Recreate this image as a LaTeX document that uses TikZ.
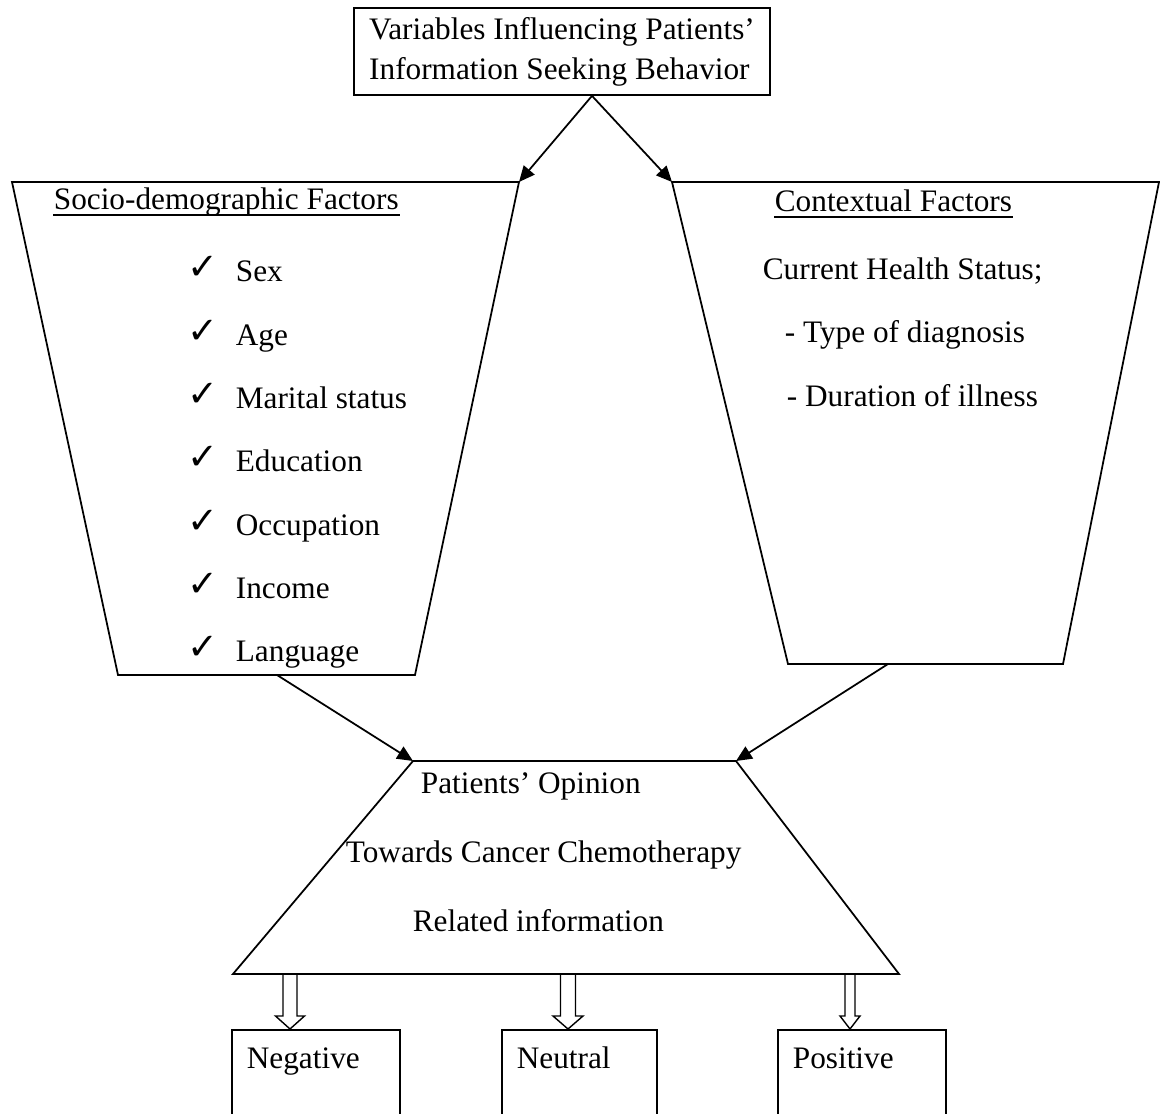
\documentclass[tikz,border=0pt]{standalone}
\usepackage{fontspec}
\setmainfont{Liberation Serif}
\newfontfamily\checkfont{DejaVu Sans}
\usetikzlibrary{arrows.meta}

\begin{document}
\begin{tikzpicture}[x=0.02cm,y=-0.02cm,line width=1pt,
    font=\fontsize{17.8}{22.7}\selectfont,
    flow/.style={-{Triangle[length=9pt,width=8pt]}},
    txt/.style={anchor=base west,inner sep=0pt},
    result/.style={draw,anchor=north west,align=left,inner xsep=0.3cm,inner ysep=0pt,
      text height=0.78cm,text depth=1.24cm},
    hollow/.style={line width=0.8pt,line join=miter}]
  \useasboundingbox (0,0) rectangle (1160,1114);

  \node[draw,align=left,minimum width=8.32cm,minimum height=1.74cm] (title) at (562,51.5)
    {Variables Influencing Patients'\\Information Seeking Behavior};
  \coordinate (split) at ([xshift=0.6cm]title.south);

  % socio-demographic trapezium
  \coordinate (sd1) at (12,182);
  \coordinate (sd2) at (519,182);
  \coordinate (sd3) at (415,675);
  \coordinate (sd4) at (118,675);
  \draw (sd1) -- (sd2) -- (sd3) -- (sd4) -- cycle;

  % contextual trapezium
  \coordinate (cf1) at (672,182);
  \coordinate (cf2) at (1159,182);
  \coordinate (cf3) at (1063,664);
  \coordinate (cf4) at (788,664);
  \draw (cf1) -- (cf2) -- (cf3) -- (cf4) -- cycle;

  \draw[flow] (split) -- (sd2);
  \draw[flow] (split) -- (cf1);

  \node[txt] (sdhead) at (53,210) {Socio-demographic Factors};
  \draw[line width=1.1pt] ([yshift=-0.1cm]sdhead.base west) -- ([yshift=-0.1cm]sdhead.base east);
  \foreach \lbl [count=\i] in {Sex,Age,Marital status,Education,Occupation,Income,Language} {
    \node[txt] (item\i) at (235,{282+63.3*(\i-1)}) {\lbl};
    \node[txt,font=\checkfont\fontsize{21}{21}\selectfont] (tick\i) at (187,{280+63.3*(\i-1)}) {✓};
  }

  \node[txt] (cfhead) at (774,212) {Contextual Factors};
  \draw[line width=1.1pt] ([yshift=-0.1cm]cfhead.base west) -- ([yshift=-0.1cm]cfhead.base east);
  \node[txt] (status) at (762,280) {Current Health Status;};
  \node[txt] (diag) at (784,343) {- Type of diagnosis};
  \node[txt] (dur) at (786,407) {- Duration of illness};

  % opinion trapezium
  \coordinate (op1) at (413,761);
  \coordinate (op2) at (736,761);
  \coordinate (op3) at (899,974);
  \coordinate (op4) at (233,974);
  \draw (op1) -- (op2) -- (op3) -- (op4) -- cycle;
  \coordinate (sdout) at (277,675);
  \coordinate (cfout) at (888,664);
  \draw[flow] (sdout) -- (op1);
  \draw[flow] (cfout) -- (op2);

  \node[txt] (opin) at (420,793) {Patients' Opinion};
  \node[txt] (towards) at (345,862) {Towards Cancer Chemotherapy};
  \node[txt] (related) at (412,931) {Related information};

  % results
  \node[result,text width=2.76cm] (neg) at (231,1029) {Negative};
  \node[result,text width=2.5cm] (neu) at (501,1029) {Neutral};
  \node[result,text width=2.76cm] (pos) at (777,1029) {Positive};
  \foreach \ax/\sw/\hw in {290/7/14.5,568/7.5/15,850/5/10}
    \draw[hollow] (\ax-\sw,974) -- (\ax-\sw,1016) -- (\ax-\hw,1016) -- (\ax,1029)
      -- (\ax+\hw,1016) -- (\ax+\sw,1016) -- (\ax+\sw,974);
\end{tikzpicture}
\end{document}
